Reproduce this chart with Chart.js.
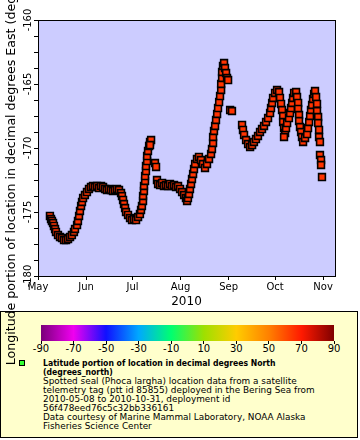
<!DOCTYPE html>
<html><head><meta charset="utf-8">
<script src="https://cdn.jsdelivr.net/npm/chart.js@4.4.1/dist/chart.umd.min.js"></script>
<style>
html,body{margin:0;padding:0;background:#fff;overflow:hidden;width:360px;height:440px;}
body{position:relative;font-family:'DejaVu Sans',sans-serif;color:#000;}
#wrap{position:absolute;left:0;top:0;width:360px;height:312px;z-index:2;}
#legend{position:absolute;left:0;top:311px;width:356px;height:125px;border:1px solid #000;background:#ffffcc;z-index:1;}
#cbar{position:absolute;left:41px;top:325px;width:293px;height:16px;z-index:3;
 background:linear-gradient(to right,#7a007a 0%,#f000f0 11.1%,#1010ff 22.2%,#00a8ff 33.3%,#00ff70 44.4%,#9ee000 55.6%,#ffcc00 66.7%,#ff8000 77.8%,#ff1a00 88.9%,#7f0000 100%);}
.cbt{position:absolute;top:341px;width:1px;height:3px;background:#000;z-index:3;}
.cbl{position:absolute;top:343px;font-size:10px;line-height:12px;transform:translateX(-50%);white-space:nowrap;z-index:3;}
#mark{position:absolute;left:19px;top:360px;width:4px;height:4px;border:1px solid #000;background:#33ff33;z-index:3;}
#ltext{position:absolute;left:43px;top:359px;font-size:8.9px;line-height:9px;white-space:nowrap;z-index:3;}
#ltext b{font-weight:bold;display:inline-block;transform:scaleX(0.87);transform-origin:0 50%;}
#ytitle{position:absolute;left:-289.5px;top:141px;width:600px;height:14px;line-height:14px;font-size:12.6px;text-align:center;white-space:nowrap;transform:rotate(-90deg);z-index:4;}
</style></head><body>
<div id="wrap"><canvas id="c" width="360" height="312" style="width:360px;height:312px"></canvas></div>
<div id="legend"></div>
<div id="cbar"></div>
<div id="mark"></div>
<div id="ltext"></div>
<div id="ytitle">Longitude portion of location in decimal degrees East (degrees_east)</div>
<script>
// ---- tick labels / categories ----
const monthStartDays = [0, 31, 61, 92, 123, 153, 184];   // days since 2010-05-01
const monthLabels = ['May', 'Jun', 'Jul', 'Aug', 'Sep', 'Oct', 'Nov'];
const yMajorTicks = [-180, -175, -170, -165, -160];
const yAllTicks = [-180, -178.75, -177.5, -176.25, -175, -173.75, -172.5, -171.25, -170,
                   -168.75, -167.5, -166.25, -165, -163.75, -162.5, -161.25, -160];
const colorbarTicks = [-90, -70, -50, -30, -10, 10, 30, 50, 70, 90];
const xTitle = '2010';
const legendLines = [
  'Latitude portion of location in decimal degrees North',
  '(degrees_north)',
  'Spotted seal (Phoca largha) location data from a satellite',
  'telemetry tag (ptt id 85855) deployed in the Bering Sea from',
  '2010-05-08 to 2010-10-31, deployment id',
  '56f478eed76c5c32bb336161',
  'Data courtesy of Marine Mammal Laboratory, NOAA Alaska',
  'Fisheries Science Center'
];

// ---- data: day since 2010-05-01, longitude (deg E) ----
const mayJulDay = [7.7,8.4,9.0,9.7,10.3,11.0,11.6,12.9,14.2,15.5,16.8,18.1,19.4,20.7,21.9,23.2,23.9,25.2,25.8,26.5,27.1,27.8,28.4,29.1,30.3,31.6,32.9,34.2,35.5,36.8,38.1,39.4,40.7,42.0,43.3,44.5,45.8,47.1,48.4,49.7,51.0,52.3,53.6,54.2,54.9,55.5,56.2,56.8,58.1,59.4,60.7,62.0,63.3,64.6,65.8,66.5,67.1,67.8,67.8,68.4,68.4,69.1,69.1,69.7,69.7,70.4,70.4,71.0,71.7,72.3,73.0,72.3];
const mayJulLon = [-175.31,-175.55,-175.70,-175.86,-176.09,-176.33,-176.56,-176.80,-176.95,-177.03,-177.19,-177.19,-177.11,-176.95,-176.80,-176.56,-176.33,-176.02,-175.70,-175.31,-174.92,-174.53,-174.22,-173.91,-173.67,-173.44,-173.20,-173.05,-172.97,-173.05,-172.97,-173.13,-172.97,-173.05,-173.20,-173.28,-173.20,-173.28,-173.36,-173.28,-173.20,-173.28,-173.52,-173.75,-174.06,-174.38,-174.69,-175.00,-175.23,-175.47,-175.63,-175.55,-175.63,-175.39,-175.16,-174.84,-174.53,-174.14,-173.75,-173.36,-172.97,-172.58,-172.19,-171.80,-171.41,-171.02,-170.63,-170.23,-169.84,-169.53,-169.38,-169.77];
const midJulDay = [75.5,76.2];
const midJulLon = [-171.17,-171.48];
const julAugDay = [76.8,77.5,78.8,80.1,81.3,82.6,83.9,85.2,86.5,87.8,89.1,90.4,91.7,93.0,94.3,95.5,96.2,96.8,97.5,98.1,98.8,99.4,100.1,100.7,101.4,102.6,103.9,105.2,106.5,107.8,109.1,110.4,111.7,112.3,113.0,113.0,113.6,114.3,114.9,115.6,116.2,116.9,117.5,118.2,118.2,118.8,118.8,119.4,120.1,120.7,121.4,122.0,122.7];
const julAugLon = [-172.50,-172.81,-172.89,-172.73,-172.97,-172.89,-172.97,-172.81,-172.97,-172.89,-173.05,-172.97,-173.20,-173.44,-173.67,-173.91,-174.14,-173.91,-173.59,-173.20,-172.81,-172.42,-172.03,-171.64,-171.25,-170.86,-170.70,-170.94,-171.25,-171.56,-171.25,-170.86,-170.47,-170.08,-169.61,-169.14,-168.67,-168.28,-167.81,-167.34,-166.88,-166.41,-165.94,-165.47,-165.00,-164.53,-164.06,-163.59,-163.36,-163.75,-164.14,-164.53,-164.69];
const earlySepDay = [124.0,125.2];
const earlySepLon = [-167.03,-167.11];
const sepOctDay = [131.7,132.3,133.0,134.3,135.6,136.9,138.2,139.4,140.7,142.0,143.3,144.6,145.9,147.2,148.5,149.8,150.4,151.1,151.7,153.0,154.3,155.6,156.2,156.9,157.5,158.2,158.2,158.8,159.5,158.8,160.1,160.8,162.0,162.7,163.3,164.0,164.6,165.3,166.6,167.2,167.9,167.9,168.5,168.5,169.1,169.8,170.4,171.1,172.4,173.7,174.3,175.0,175.6,176.2,176.9,177.5,178.2,178.8,179.5,180.1,180.1,180.8,180.8,181.4,181.4,182.0];
const sepOctLon = [-168.20,-168.59,-168.98,-169.38,-169.69,-169.92,-169.77,-169.53,-169.30,-169.06,-168.75,-168.52,-168.28,-167.97,-167.66,-167.27,-166.88,-166.48,-166.09,-165.70,-165.47,-165.63,-166.09,-166.56,-167.03,-167.50,-167.97,-168.44,-168.83,-169.14,-168.44,-168.05,-167.66,-167.27,-166.88,-166.48,-166.09,-165.70,-165.63,-166.02,-166.48,-166.95,-167.42,-167.89,-168.36,-168.75,-169.14,-169.53,-169.22,-168.91,-168.44,-167.97,-167.50,-167.03,-166.64,-166.17,-165.78,-165.55,-166.02,-166.56,-167.11,-167.58,-168.05,-168.59,-169.14,-169.53];
const endOctDay = [182.0,182.7,182.7,183.3];
const endOctLon = [-170.55,-170.94,-171.33,-172.27];

const segments = [[mayJulDay, mayJulLon], [midJulDay, midJulLon], [julAugDay, julAugLon],
                  [earlySepDay, earlySepLon], [sepOctDay, sepOctLon], [endOctDay, endOctLon]];
const points = [];
segments.forEach(([d, l]) => d.forEach((v, i) => points.push({x: v, y: l[i]})));

// ---- legend (HTML text) ----
document.getElementById('ltext').innerHTML =
  legendLines.map((t, i) => i < 2 ? '<b>' + t + '</b>' : t).join('<br>');
colorbarTicks.forEach(v => {
  const x = 41 + (v + 90) / 180 * 293;
  const t = document.createElement('div'); t.className = 'cbt'; t.style.left = (x - 0.5) + 'px';
  document.body.appendChild(t);
  const l = document.createElement('div'); l.className = 'cbl'; l.style.left = x + 'px'; l.textContent = v;
  document.body.appendChild(l);
});

Chart.defaults.font.family = "'DejaVu Sans', sans-serif";
Chart.defaults.color = '#000';

const frame = {
  id: 'frame',
  beforeDraw(c) {
    const a = c.chartArea, ctx = c.ctx;
    ctx.save(); ctx.fillStyle = '#ccccff';
    ctx.fillRect(a.left, a.top, a.right - a.left, a.bottom - a.top); ctx.restore();
  },
  afterDraw(c) {
    const a = c.chartArea, ctx = c.ctx, ys = c.scales.y;
    ctx.save();
    ctx.strokeStyle = '#000'; ctx.lineWidth = 1;
    ctx.strokeRect(a.left + 0.5, a.top + 0.5, a.right - a.left, a.bottom - a.top);
    ctx.fillStyle = '#000'; ctx.font = "10px 'DejaVu Sans'";
    ctx.textAlign = 'center'; ctx.textBaseline = 'alphabetic';
    yMajorTicks.forEach(v => {
      const y = ys.getPixelForValue(v);
      ctx.save(); ctx.translate(30.5, y); ctx.rotate(-Math.PI / 2);
      ctx.fillText(String(v), 0, 0); ctx.restore();
    });
    ctx.restore();
  }
};

new Chart(document.getElementById('c'), {
  type: 'scatter',
  data: { datasets: [{
    data: points,
    pointStyle: 'rect',
    pointRadius: 4.8,
    pointBorderWidth: 1.6,
    pointBackgroundColor: '#ff3300',
    pointBorderColor: '#000'
  }]},
  options: {
    responsive: false, animation: false, devicePixelRatio: 1,
    layout: { padding: { left: 0, top: 20, right: 25, bottom: 2 } },
    plugins: { legend: { display: false }, tooltip: { enabled: false } },
    scales: {
      x: {
        type: 'linear', min: 0, max: 191.7,
        afterBuildTicks: s => { s.ticks = monthStartDays.map(v => ({ value: v })); },
        afterFit: s => { s.height = 34; },
        border: { display: false },
        grid: { drawOnChartArea: false, drawTicks: true, tickLength: 4, color: '#000' },
        ticks: { autoSkip: false, maxRotation: 0, minRotation: 0, padding: 1, font: { size: 10 }, color: '#000',
                 callback: v => monthLabels[monthStartDays.indexOf(v)] ?? '' },
        title: { display: true, text: xTitle, font: { size: 12 }, color: '#000', padding: { top: 0, bottom: 1 } }
      },
      y: {
        type: 'linear', min: -180, max: -160,
        afterBuildTicks: s => { s.ticks = yAllTicks.map(v => ({ value: v })); },
        afterFit: s => { s.width = 38; },
        border: { display: false },
        grid: { drawOnChartArea: false, drawTicks: true, tickLength: 4, color: '#000' },
        ticks: { display: false }
      }
    }
  },
  plugins: [frame]
});
</script>
</body></html>
